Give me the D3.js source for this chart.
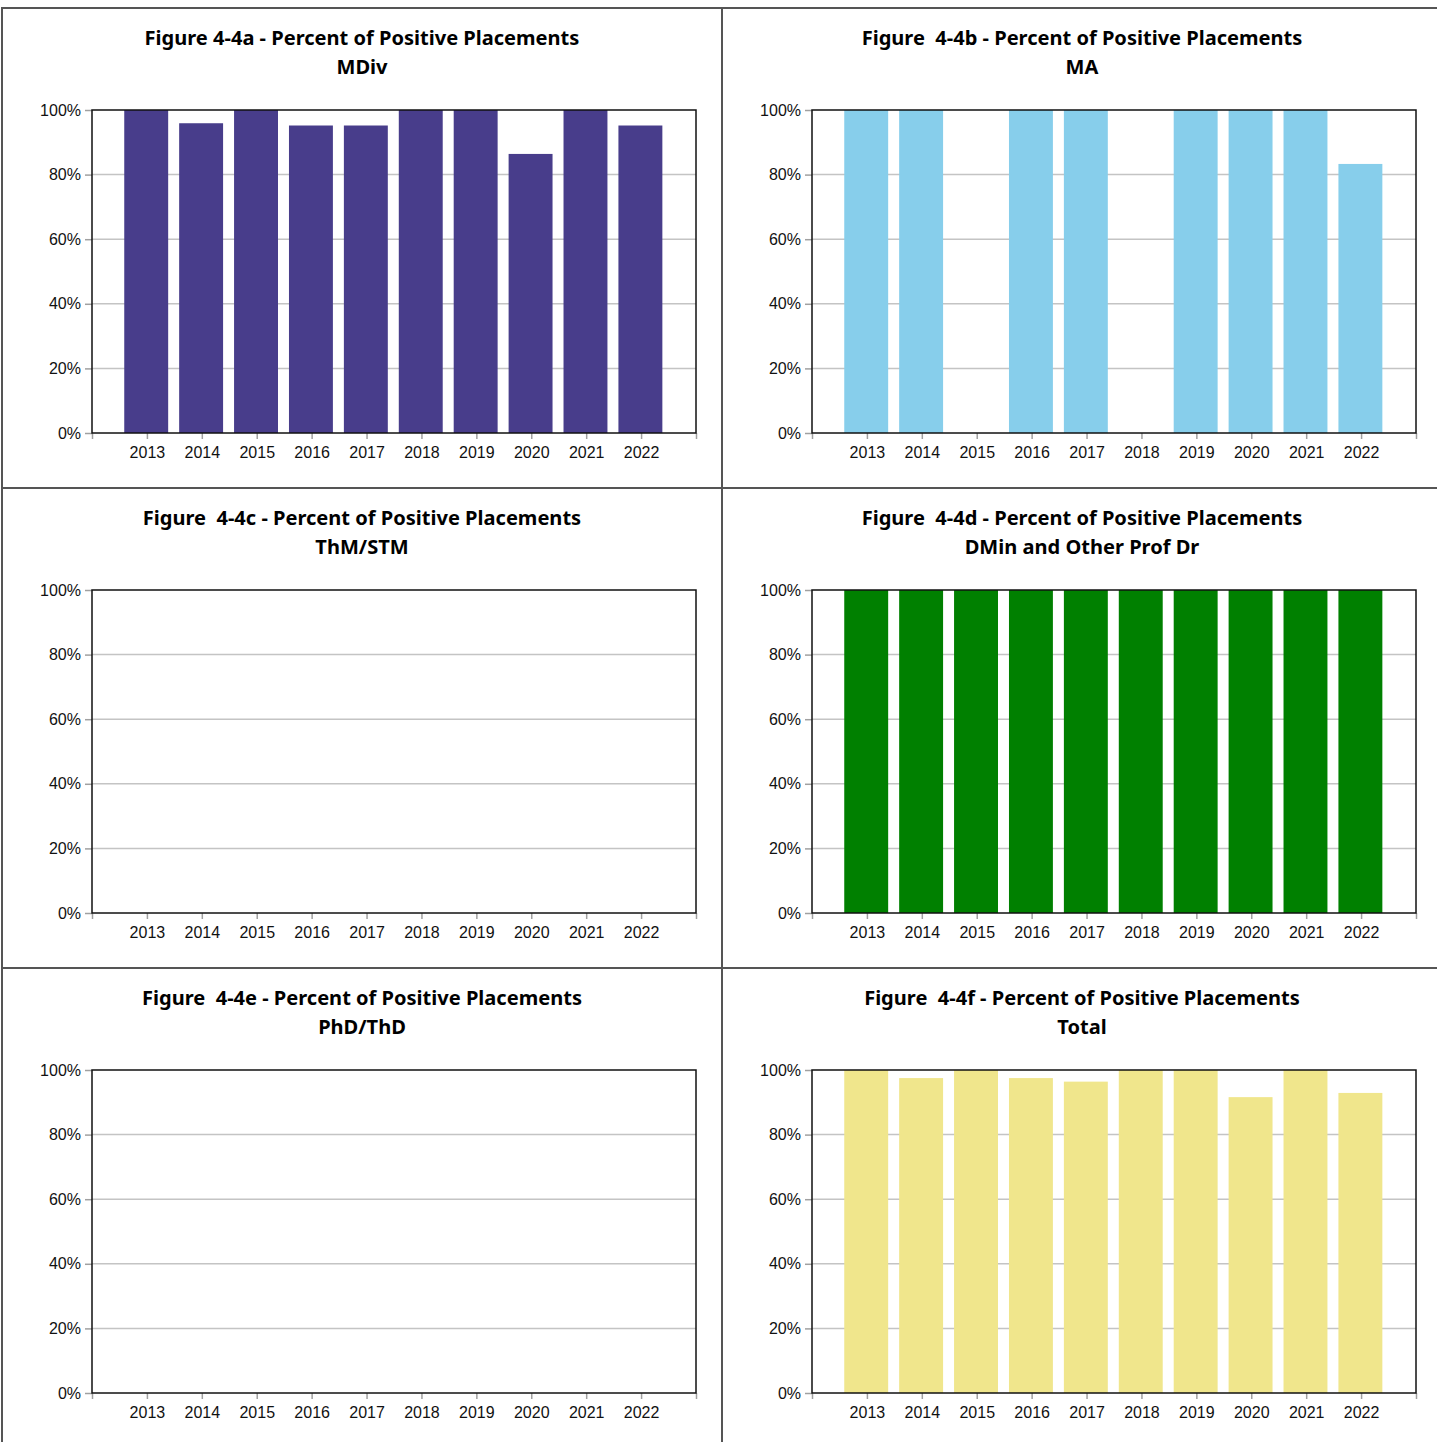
<!DOCTYPE html>
<html>
<head>
<meta charset="utf-8">
<script src="https://cdn.jsdelivr.net/npm/d3@7"></script>
<style>
  html, body { margin: 0; padding: 0; background: #fff; }
  svg { display: block; }
  .title { font-family: "Noto Sans", "Open Sans", sans-serif; font-weight: bold; fill: #000; white-space: pre; }
  .tick-label { font-family: "Liberation Sans", Arial, sans-serif; font-size: 16px; fill: #111; }
</style>
</head>
<body>
<svg id="chart" width="1437" height="1442"></svg>
<script>
// Graduation years shown on every panel
const years = [2013, 2014, 2015, 2016, 2017, 2018, 2019, 2020, 2021, 2022];

// Percent of positive placements by degree program (null = no graduates that year)
const mdivValues  = [100, 95.9, 100, 95.2, 95.2, 100, 100, 86.4, 100, 95.2];
const maValues    = [100, 100, null, 100, 100, null, 100, 100, 100, 83.3];
const thmValues   = [null, null, null, null, null, null, null, null, null, null];
const dminValues  = [100, 100, 100, 100, 100, 100, 100, 100, 100, 100];
const phdValues   = [null, null, null, null, null, null, null, null, null, null];
const totalValues = [100, 97.5, 100, 97.5, 96.4, 100, 100, 91.6, 100, 92.9];

const yTicks = [0, 20, 40, 60, 80, 100];

const titleLines = [
  ["Figure 4-4a - Percent of Positive Placements", "MDiv"],
  ["Figure  4-4b - Percent of Positive Placements", "MA"],
  ["Figure  4-4c - Percent of Positive Placements", "ThM/STM"],
  ["Figure  4-4d - Percent of Positive Placements", "DMin and Other Prof Dr"],
  ["Figure  4-4e - Percent of Positive Placements", "PhD/ThD"],
  ["Figure  4-4f - Percent of Positive Placements", "Total"]
];
const seriesList = [mdivValues, maValues, thmValues, dminValues, phdValues, totalValues];
const barColors = ["#483D8B", "#87CEEB", "#808080", "#008000", "#808080", "#F0E68C"];

// Layout of one panel
const panelW = 720, panelH = 480;
const originX = 2, originY = 8;
const plot = { left: 90, top: 102, width: 604, height: 323 };

const svg = d3.select("#chart");
svg.append("rect").attr("width", 1437).attr("height", 1442).attr("fill", "#fff");

const x = d3.scaleLinear().domain([2012, 2023]).range([0, plot.width]);
const y = d3.scaleLinear().domain([0, 100]).range([plot.height, 0]);
const barW = (x(2013) - x(2012)) * 0.8;

seriesList.forEach((values, i) => {
  const col = i % 2, row = Math.floor(i / 2);
  const px = originX + col * panelW, py = originY + row * panelH;
  const g = svg.append("g").attr("transform", `translate(${px},${py})`);

  // titles
  g.append("text").attr("class", "title").attr("x", panelW / 2).attr("y", 29)
    .attr("text-anchor", "middle").attr("dominant-baseline", "central")
    .attr("font-size", 20).text(titleLines[i][0]);
  g.append("text").attr("class", "title").attr("x", panelW / 2).attr("y", 58)
    .attr("text-anchor", "middle").attr("dominant-baseline", "central")
    .attr("font-size", 20).text(titleLines[i][1]);

  const pg = g.append("g").attr("transform", `translate(${plot.left},${plot.top})`);

  // horizontal gridlines
  pg.append("g").selectAll("line").data(yTicks.filter(t => t > 0 && t < 100)).join("line")
    .attr("x1", 0).attr("x2", plot.width)
    .attr("y1", d => y(d)).attr("y2", d => y(d))
    .attr("stroke", "#c4c4c4").attr("stroke-width", 1.5);

  // y axis ticks + labels
  const yAxis = d3.axisLeft(y).tickValues(yTicks).tickSize(7).tickPadding(4)
    .tickFormat(d => d + "%");
  const ya = pg.append("g").call(yAxis);
  ya.select(".domain").remove();
  ya.selectAll(".tick line").attr("stroke", "#a0a0a0").attr("stroke-width", 1.5);
  ya.selectAll(".tick text").attr("class", "tick-label").attr("font-size", null)
    .attr("font-family", null).attr("fill", null);

  // x axis ticks at year centres and plot edges
  const xAxis = d3.axisBottom(x).tickValues(d3.range(2012, 2024)).tickSize(6).tickPadding(8)
    .tickFormat(d => years.includes(d) ? String(d) : "");
  const xa = pg.append("g").attr("transform", `translate(0,${plot.height})`).call(xAxis);
  xa.select(".domain").remove();
  xa.selectAll(".tick line").attr("stroke", "#a0a0a0").attr("stroke-width", 1.5);
  xa.selectAll(".tick text").attr("class", "tick-label").attr("font-size", null)
    .attr("font-family", null).attr("fill", null);

  // bars
  const data = years.map((yr, k) => ({ yr, v: values[k] })).filter(d => d.v != null);
  pg.append("g").selectAll("rect").data(data).join("rect")
    .attr("x", d => x(d.yr) - barW / 2 - 0.7)
    .attr("width", barW)
    .attr("y", d => y(d.v))
    .attr("height", d => plot.height - y(d.v))
    .attr("fill", barColors[i]);

  // plot frame
  pg.append("rect").attr("x", 0).attr("y", 0).attr("width", plot.width).attr("height", plot.height)
    .attr("fill", "none").attr("stroke", "#111").attr("stroke-width", 1.5);

  // panel border
  g.append("rect").attr("x", 0).attr("y", 0).attr("width", panelW).attr("height", panelH)
    .attr("fill", "none").attr("stroke", "#555").attr("stroke-width", 2);
});

// scale title font so the first line spans the same width across fonts
const probe = svg.select(".title").node();
const w = probe.getComputedTextLength();
const fs = 20 * 435 / w;
svg.selectAll(".title").attr("font-size", fs);
</script>
</body>
</html>
